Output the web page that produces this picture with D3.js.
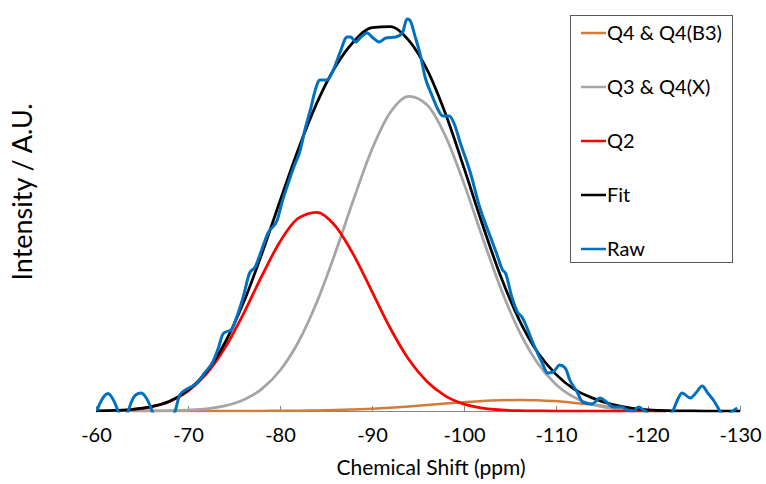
<!DOCTYPE html>
<html>
<head>
<meta charset="utf-8">
<script src="https://cdn.jsdelivr.net/npm/d3@7"></script>
<style>
  body { margin: 0; background: #fff; }
  svg { display: block; font-family: Lato, "Liberation Sans", sans-serif; }
</style>
</head>
<body>
<div id="chart"></div>
<script>
// chemical shift ticks (ppm)
const tickValues = [-60, -70, -80, -90, -100, -110, -120, -130];

// fitted components, sampled every 2 ppm
const compShift = [-64, -66, -68, -70, -72, -74, -76, -78, -80, -82, -84, -86, -88, -90, -92,
  -94, -96, -98, -100, -102, -104, -106, -108, -110, -112, -114, -116, -118, -120, -122];
const q4b3 = [0, 0, 0, 0, 0, 0, 0, 0.1, 0.2, 0.3, 0.6, 0.9, 1.5, 2.3, 3.3,
  4.5, 5.9, 7.4, 8.8, 10.0, 10.7, 11.0, 10.7, 10.0, 8.0, 6.5, 4.0, 2.0, 0.8, 0.2];
const q3q4x = [0, 0.1, 0.3, 0.9, 2.1, 5.1, 11.0, 21.9, 40.5, 69.0, 108.7, 157.9, 211.6, 261.7, 298.7,
  314.7, 306.0, 274.6, 227.4, 173.8, 122.6, 79.8, 47.9, 26.6, 13.6, 6.4, 2.8, 1.1, 0.4, 0.1];
const q2 = [1.6, 4.2, 9.5, 19.8, 37.1, 62.9, 96.7, 134.6, 169.3, 192.8, 198.6, 185.2, 156.2, 119.4, 82.5,
  51.5, 29.2, 14.9, 6.9, 2.9, 1.1, 0.4, 0.1, 0, 0, 0, 0, 0, 0, 0];

// total fit
const fitShift = [-60, -62, -64, -66, -68, -70, -72, -74, -76, -78, -80, -82, -84, -86, -88, -90, -92, -94,
  -96, -98, -100, -102, -104, -106, -108, -110, -112, -114, -116, -118, -120, -122, -124, -126, -128, -130];
const fit = [0.2, 0.6, 1.6, 4.3, 9.8, 20.7, 39.2, 68.0, 107.7, 156.5, 210.0, 262.1, 307.9, 344.0, 369.3, 383.4, 384.5, 370.7,
  341.1, 296.9, 243.1, 186.7, 134.4, 91.2, 58.7, 36.6, 21.6, 12.9, 6.8, 3.1, 1.2, 0.3, 0.1, 0, 0, 0];

// raw spectrum
const rawShift = [-60.1, -60.4, -60.9, -61.3, -61.7, -62.1, -62.4, -62.7, -63.2, -63.5, -63.8, -64.3, -64.9, -65.4, -65.8,
  -66.1, -66.5, -68.0, -68.6, -69.1, -69.9, -71.0, -71.8, -72.7, -73.3, -73.8, -74.1, -74.7, -75.3, -76.0,
  -76.7, -77.3, -78.0, -78.7, -79.7, -80.2, -80.9, -81.5, -82.2, -82.7, -83.3, -83.9, -84.3, -85.1, -85.8,
  -86.5, -87.3, -87.7, -88.2, -88.8, -89.5, -90.0, -90.8, -91.5, -92.6, -93.3, -93.8, -94.1, -94.7, -95.2,
  -95.8, -96.5, -97.2, -97.7, -98.4, -98.9, -99.6, -100.7, -101.7, -103.0, -103.6, -104.2, -104.5, -105.2, -105.8,
  -106.3, -107.5, -108.5, -109.1, -109.7, -110.4, -111.0, -111.5, -112.3, -112.9, -113.9, -114.8, -115.5, -116.2, -117.2,
  -117.7, -118.4, -119.0, -119.5, -119.7, -120.2, -122.2, -122.7, -123.2, -123.7, -124.6, -125.2, -125.9, -126.5, -127.1,
  -127.5, -127.8, -128.5, -129.2, -129.7];
const raw = [0, 7, 15, 17.5, 14, 7, 0, -6, -6, 0, 8, 16, 18, 14, 7,
  0, -7, -7, 0, 16, 22, 28, 38, 49, 63, 77, 79, 81, 94, 114,
  138, 144, 161, 178, 191, 208, 228, 244, 261, 281, 301, 323, 331, 331, 341,
  358, 374, 374, 369, 374, 378, 374, 369, 373, 374, 378, 392, 391, 374, 358,
  333, 316, 301, 295, 295, 288, 268, 238, 204, 171, 156, 141, 138, 114, 99,
  94, 68, 48, 38, 39, 46, 43, 31, 19, 9, 7, 13, 9, 4, 4,
  1, 0, 4, 1, 0, -5, -5, 0, 11, 18, 13, 18, 25, 18, 11,
  5, 0, -5, 0, 3];

const legendLabels = ["Q4 & Q4(B3)", "Q3 & Q4(X)", "Q2", "Fit", "Raw"];
const legendColors = ["#D27C3A", "#A5A5A5", "#FF0000", "#000000", "#0070C0"];

const width = 766, height = 484;
const plot = { left: 96, right: 740, top: 11, bottom: 411 };

const x = d3.scaleLinear().domain([-60, -130]).range([plot.left, plot.right]);
const y = d3.scaleLinear().domain([0, 400]).range([plot.bottom, plot.top]);

const svg = d3.select("#chart").append("svg")
  .attr("width", width)
  .attr("height", height);

svg.append("defs").append("clipPath").attr("id", "clip")
  .append("rect")
  .attr("x", plot.left).attr("y", 0)
  .attr("width", plot.right - plot.left)
  .attr("height", plot.bottom + 1.5);

// x axis, ticks pointing up into the plot
const axis = svg.append("g")
  .attr("transform", "translate(0," + plot.bottom + ")")
  .call(d3.axisBottom(x)
    .tickValues(tickValues)
    .tickFormat(d => String(d))
    .tickSizeInner(-5)
    .tickSizeOuter(0)
    .tickPadding(17));
axis.select(".domain").attr("stroke", "#868686");
axis.selectAll(".tick line").attr("stroke", "#868686");
axis.selectAll(".tick text")
  .attr("fill", "#000")
  .style("font-size", "20px")
  .style("font-family", "Lato, sans-serif");

const lines = svg.append("g").attr("clip-path", "url(#clip)");

const line = d3.line()
  .x(d => x(d[0]))
  .y(d => y(d[1]))
  .curve(d3.curveMonotoneX);

const series = [
  { xs: compShift, ys: q4b3, color: legendColors[0], w: 2.5 },
  { xs: compShift, ys: q3q4x, color: legendColors[1], w: 2.75 },
  { xs: compShift, ys: q2, color: legendColors[2], w: 2.75 },
  { xs: fitShift, ys: fit, color: legendColors[3], w: 2.75 },
  { xs: rawShift, ys: raw, color: legendColors[4], w: 3 }
];

series.forEach(s => {
  lines.append("path")
    .datum(s.xs.map((v, i) => [v, s.ys[i]]))
    .attr("fill", "none")
    .attr("stroke", s.color)
    .attr("stroke-width", s.w)
    .attr("stroke-linejoin", "round")
    .attr("d", line);
});

// axis titles
svg.append("text")
  .attr("x", 431)
  .attr("y", 475)
  .attr("text-anchor", "middle")
  .style("font-size", "21px")
  .text("Chemical Shift (ppm)");

svg.append("text")
  .attr("transform", "translate(32,192) rotate(-90)")
  .attr("text-anchor", "middle")
  .style("font-size", "27px")
  .text("Intensity / A.U.");

// legend
const legend = svg.append("g");
legend.append("rect")
  .attr("x", 570.5).attr("y", 15.5)
  .attr("width", 162).attr("height", 247)
  .attr("fill", "#fff")
  .attr("stroke", "#595959");

const item = legend.selectAll(".item")
  .data(legendLabels)
  .enter()
  .append("g")
  .attr("class", "item")
  .attr("transform", (d, i) => "translate(0," + (33 + i * 54) + ")");

item.append("line")
  .attr("x1", 581).attr("x2", 606)
  .attr("stroke", (d, i) => legendColors[i])
  .attr("stroke-width", 2.5);

item.append("text")
  .attr("x", 607)
  .attr("dy", "0.35em")
  .style("font-size", "20px")
  .text(d => d);
</script>
</body>
</html>
